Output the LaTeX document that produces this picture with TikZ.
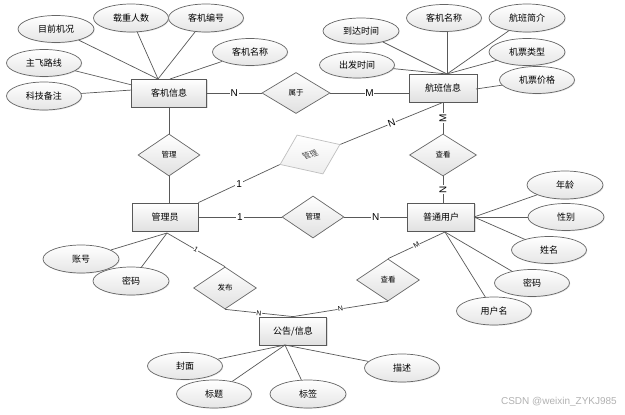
\documentclass[tikz,border=0pt]{standalone}
\usepackage{fontspec}
\setmainfont{Noto Sans CJK SC}
\newfontfamily\lat{Liberation Sans}
\usetikzlibrary{shapes.geometric,shadows,calc}
\begin{document}
\begin{tikzpicture}[x=1pt,y=-1pt,
  conn/.style={draw=black!65,line width=0.8pt},
  entity/.style={draw=black!65,line width=0.8pt,rectangle,minimum width=67pt,minimum height=28pt,inner sep=0pt,
    top color=white,bottom color=black!12,font=\fontsize{9}{10}\selectfont,
    drop shadow={shadow xshift=1.2pt,shadow yshift=-1.2pt,opacity=0.25}},
  attr/.style={draw=black!60,line width=0.7pt,ellipse,minimum width=75pt,minimum height=27pt,inner sep=0pt,
    top color=white,bottom color=black!10,font=\fontsize{9}{10}\selectfont,
    drop shadow={shadow xshift=0.8pt,shadow yshift=-0.8pt,opacity=0.2}},
  rel/.style={draw=black!60,line width=0.7pt,diamond,minimum width=63pt,minimum height=42pt,inner sep=0pt,
    top color=white,bottom color=black!12,font=\fontsize{7.5}{8}\selectfont},
  lbl/.style={fill=white,inner sep=0.8pt,font=\lat\fontsize{10}{10}\selectfont},
  slbl/.style={fill=white,inner sep=0.5pt,font=\lat\fontsize{7}{7}\selectfont}
]
\useasboundingbox (0,0) rectangle (625,415);
\fill[white] (0,0) rectangle (625,415);

% entities
\node[entity,minimum width=75pt] (kj) at (169,93) {客机信息};
\node[entity,minimum width=68pt] (hb) at (443,88) {航班信息};
\node[entity,minimum width=66pt] (gly) at (165,217) {管理员};
\node[entity] (yh) at (441,217) {普通用户};
\node[entity] (gg) at (293,331) {公告/信息};

% relationships
\node[rel,minimum width=68pt,minimum height=41pt] (sy) at (296,93) {属于};
\node[rel,minimum width=62pt] (gl1) at (169,155) {管理};
\node[rel,minimum width=63pt,minimum height=42pt,cm={0.952,0.317,-0.619,0.929,(0,0)},draw=black!25,top color=white,bottom color=black!7,text=black!70] (gl2) at (310,154.5) {管理};
\node[rel,minimum width=67pt] (ck1) at (443,155) {查看};
\node[rel,minimum width=62pt] (gl3) at (313,217) {管理};
\node[rel] (fb) at (225,288) {发布};
\node[rel] (ck2) at (388,280) {查看};

% attributes of 客机信息
\node[attr,minimum width=76pt] (a1) at (56,29) {目前机况};
\node[attr,minimum height=28pt] (a2) at (131,18) {载重人数};
\node[attr,minimum height=28pt] (a3) at (206,18) {客机编号};
\node[attr] (a4) at (250,52) {客机名称};
\node[attr] (a5) at (44,63) {主飞路线};
\node[attr,minimum height=28pt] (a6) at (44,96) {科技备注};
\coordinate (kjT) at (158,79);
\coordinate (kjT2) at (170,79);
\coordinate (kjL1) at (132,85);
\coordinate (kjL2) at (132,90);
\draw[conn,line width=0.7pt] (a1) -- (kjT);
\draw[conn,line width=0.7pt] (a2) -- (kjT);
\draw[conn,line width=0.7pt] (a3) -- (kjT);
\draw[conn,line width=0.7pt] (a4) -- (kjT2);
\draw[conn,line width=0.7pt] (a5) -- (kjL1);
\draw[conn,line width=0.7pt] (a6) -- (kjL2);

% attributes of 航班信息
\node[attr,minimum width=76pt,minimum height=26pt] (b1) at (361,31) {到达时间};
\node[attr] (b2) at (444,18) {客机名称};
\node[attr,minimum width=76pt,minimum height=28pt] (b3) at (527,18) {航班简介};
\node[attr,minimum width=76pt] (b4) at (527,52) {机票类型};
\node[attr,minimum height=26pt] (b5) at (357,65) {出发时间};
\node[attr] (b6) at (537,80) {机票价格};
\coordinate (hbT) at (447,74);
\coordinate (hbR) at (476,89);
\draw[conn,line width=0.7pt] (b1) -- (hbT);
\draw[conn,line width=0.7pt] (b2.south -| hbT) -- (hbT);
\draw[conn,line width=0.7pt] (b3) -- (hbT);
\draw[conn,line width=0.7pt] (b4) -- (hbT);
\draw[conn,line width=0.7pt] (b5) -- (hbT);
\draw[conn,line width=0.7pt] (b6) -- (hbR);

% attributes of 普通用户
\node[attr,minimum width=76pt,minimum height=28pt] (c1) at (565,185) {年龄};
\node[attr,minimum width=76pt] (c2) at (566,217) {性别};
\node[attr] (c3) at (549,250) {姓名};
\node[attr] (c4) at (532,283) {密码};
\node[attr,minimum height=28pt] (c5) at (494,311) {用户名};
\coordinate (yhR) at (474,217);
\coordinate (yhB) at (445,232);
\draw[conn,line width=0.7pt] (c1) -- (yhR);
\draw[conn,line width=0.7pt] (c2) -- (yhR);
\draw[conn,line width=0.7pt] (c3) -- (yhR);
\draw[conn,line width=0.7pt] (c4) -- (yhB);
\draw[conn,line width=0.7pt] (c5) -- (yhB);

% attributes of 管理员
\node[attr,minimum width=76pt,minimum height=28pt] (d1) at (81,259) {账号};
\node[attr,minimum width=76pt,minimum height=28pt] (d2) at (131,281) {密码};
\coordinate (glyB) at (167,233);
\draw[conn,line width=0.7pt] (d1) -- (glyB);
\draw[conn,line width=0.7pt] (d2) -- (glyB);

% attributes of 公告/信息
\node[attr] (e1) at (185,366) {封面};
\node[attr,minimum height=28pt] (e2) at (214,394) {标题};
\node[attr,minimum width=76pt,minimum height=28pt] (e3) at (308,394) {标签};
\node[attr,minimum height=28pt] (e4) at (402,368) {描述};
\coordinate (ggB) at (285,345);
\draw[conn,line width=0.7pt] (e1) -- (ggB);
\draw[conn,line width=0.7pt] (e2) -- (ggB);
\draw[conn,line width=0.7pt] (e3) -- (ggB);
\draw[conn,line width=0.7pt] (e4) -- (ggB);

% relationship connectors
\draw[conn] (kj.east) -- node[lbl]{N} (sy.west);
\draw[conn] (sy.east) -- node[lbl]{M} (sy.east -| hb.west);
\draw[conn] (kj.south) -- (gl1.north);
\draw[conn] (gl1.south) -- (gl1.south |- gly.north);
\draw[conn,line width=0.7pt] (gly.north east) -- node[lbl,pos=0.5]{1} (gl2.west);
\draw[conn,line width=0.7pt] (gl2.east) -- node[lbl,pos=0.5,rotate=20]{N} (hb.south);
\draw[conn] (hb.south) -- node[lbl,rotate=90]{M} (ck1.north);
\draw[conn] (ck1.south) -- node[lbl,rotate=90]{N} (ck1.south |- yh.north);
\draw[conn] (gly.east) -- node[lbl]{1} (gl3.west);
\draw[conn] (gl3.east) -- node[lbl]{N} (yh.west);
\draw[conn,line width=0.7pt] (glyB) -- node[slbl,rotate=-30]{1} (fb.north);
\draw[conn,line width=0.7pt] (fb.south) -- node[slbl,rotate=-7]{N} (gg.north);
\draw[conn,line width=0.7pt] (ck2.south) -- node[slbl,rotate=10]{N} (gg.north);
\draw[conn,line width=0.7pt] (ck2.north) -- node[slbl,rotate=30]{M} (yhB);

% watermark
\node[font=\lat\fontsize{10}{10}\selectfont,text=black!30,anchor=east,inner sep=0pt] (wm) at (617,402) {CSDN @weixin\_ZYKJ985};
\end{tikzpicture}
\end{document}
